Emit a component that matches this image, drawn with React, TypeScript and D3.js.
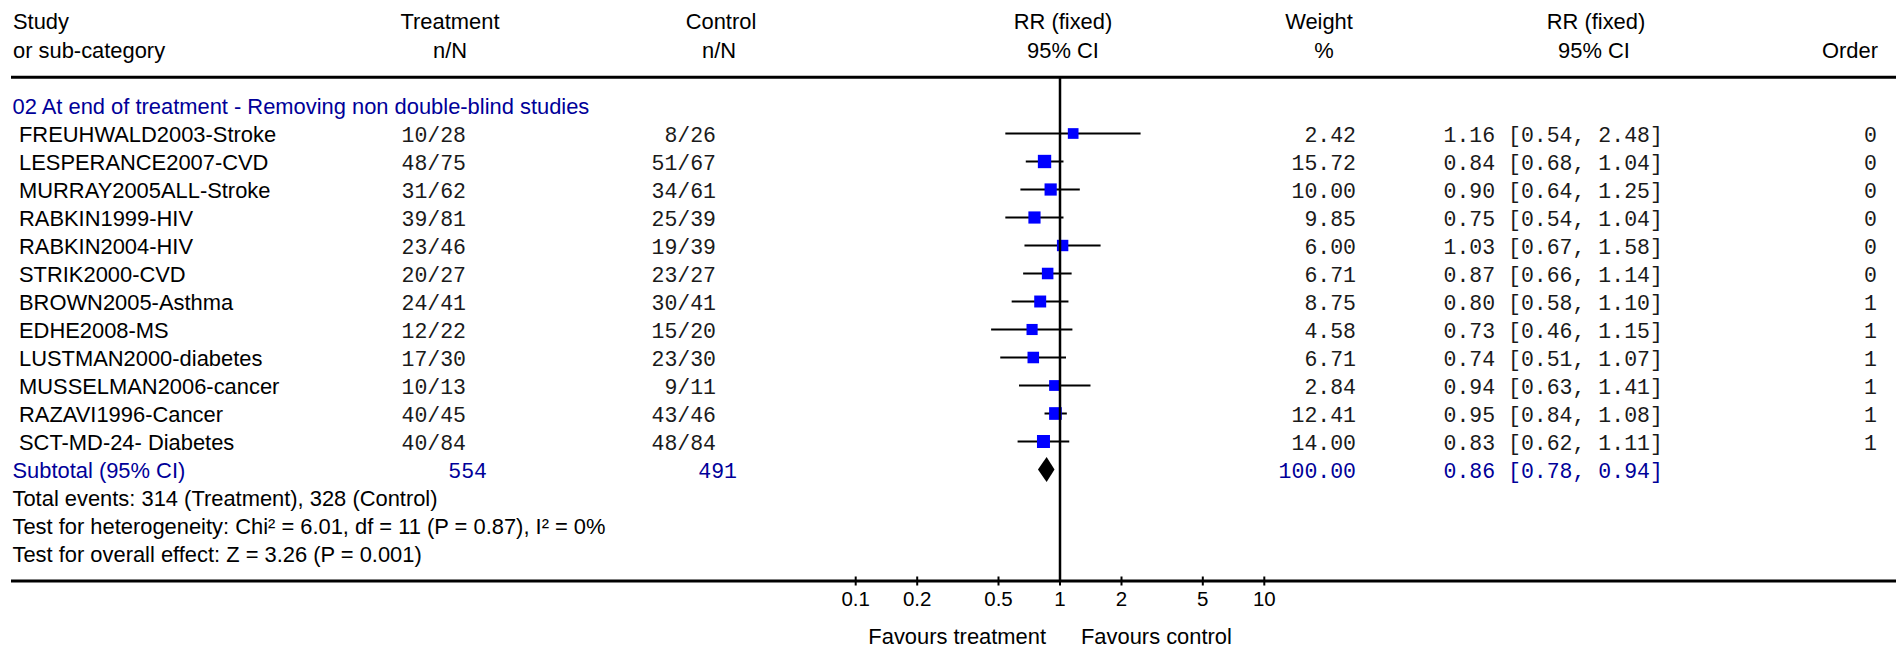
import React from "react";
import * as d3 from "d3";

// ---- Data ----
const groupTitle = "02 At end of treatment - Removing non double-blind studies";
const studies = [
  "FREUHWALD2003-Stroke",
  "LESPERANCE2007-CVD",
  "MURRAY2005ALL-Stroke",
  "RABKIN1999-HIV",
  "RABKIN2004-HIV",
  "STRIK2000-CVD",
  "BROWN2005-Asthma",
  "EDHE2008-MS",
  "LUSTMAN2000-diabetes",
  "MUSSELMAN2006-cancer",
  "RAZAVI1996-Cancer",
  "SCT-MD-24- Diabetes",
];
const treatmentEvents = [10, 48, 31, 39, 23, 20, 24, 12, 17, 10, 40, 40];
const treatmentTotals = [28, 75, 62, 81, 46, 27, 41, 22, 30, 13, 45, 84];
const controlEvents = [8, 51, 34, 25, 19, 23, 30, 15, 23, 9, 43, 48];
const controlTotals = [26, 67, 61, 39, 39, 27, 41, 20, 30, 11, 46, 84];
const weights = [2.42, 15.72, 10.0, 9.85, 6.0, 6.71, 8.75, 4.58, 6.71, 2.84, 12.41, 14.0];
const rr = [1.16, 0.84, 0.9, 0.75, 1.03, 0.87, 0.8, 0.73, 0.74, 0.94, 0.95, 0.83];
const ciLow = [0.54, 0.68, 0.64, 0.54, 0.67, 0.66, 0.58, 0.46, 0.51, 0.63, 0.84, 0.62];
const ciHigh = [2.48, 1.04, 1.25, 1.04, 1.58, 1.14, 1.1, 1.15, 1.07, 1.41, 1.08, 1.11];
const order = [0, 0, 0, 0, 0, 0, 1, 1, 1, 1, 1, 1];

const subtotalLabel = "Subtotal (95% CI)";
const subtotalTreatment = [554];
const subtotalControl = [491];
const subtotalWeight = [100.0];
const subtotalRR = [0.86];
const subtotalLow = [0.78];
const subtotalHigh = [0.94];

const footerLines = [
  "Total events: 314 (Treatment), 328 (Control)",
  "Test for heterogeneity: Chi² = 6.01, df = 11 (P = 0.87), I² = 0%",
  "Test for overall effect: Z = 3.26 (P = 0.001)",
];

const tickValues = [0.1, 0.2, 0.5, 1, 2, 5, 10];
const tickLabels = ["0.1", "0.2", "0.5", "1", "2", "5", "10"];
const favourLeft = "Favours treatment";
const favourRight = "Favours control";

// ---- Styles ----
const W = 1896;
const H = 648;
const SANS = "'Liberation Sans', Arial, Helvetica, sans-serif";
const MONO = "'Liberation Mono', 'Courier New', monospace";
const FS = 21.9;
const MFS = 21.5;
const BLUE = "#000099";
const SQUARE = "#0000ff";
const NUM = "#1a1a1a";

export default function App() {
  const x = d3.scaleLog().domain([0.1, 10]).range([855.7, 1264.3]);
  const y = d3.scaleLinear().domain([0, 11]).range([133.5, 441.5]);
  const base = 8; // baseline offset from row centre
  const size = d3.scaleLinear().domain([0, 16]).range([10.2, 13.4]);
  const fmt = d3.format(".2f");

  const topLine = 77.3;
  const axisY = 581;
  const subY = y(studies.length);
  const diamondHalfH = 12.5;

  const headerY1 = 29;
  const headerY2 = 58;

  return (
    <svg
      width={W}
      height={H}
      style={{ position: "absolute", left: 0, top: 0, background: "#fff" }}
      fontFamily={SANS}
      fontSize={FS}
    >
      <rect x={0} y={0} width={W} height={H} fill="#fff" />
      {/* Headers */}
      <g fill="#000">
        <text x={13} y={headerY1}>Study</text>
        <text x={13} y={headerY2}>or sub-category</text>
        <text x={450} y={headerY1} textAnchor="middle">Treatment</text>
        <text x={450} y={headerY2} textAnchor="middle">n/N</text>
        <text x={721} y={headerY1} textAnchor="middle">Control</text>
        <text x={719} y={headerY2} textAnchor="middle">n/N</text>
        <text x={1063} y={headerY1} textAnchor="middle">RR (fixed)</text>
        <text x={1063} y={headerY2} textAnchor="middle">95% CI</text>
        <text x={1319} y={headerY1} textAnchor="middle">Weight</text>
        <text x={1324} y={headerY2} textAnchor="middle">%</text>
        <text x={1596} y={headerY1} textAnchor="middle">RR (fixed)</text>
        <text x={1594} y={headerY2} textAnchor="middle">95% CI</text>
        <text x={1878} y={headerY2} textAnchor="end">Order</text>
      </g>

      <line x1={11} x2={W} y1={topLine} y2={topLine} stroke="#000" strokeWidth={3} />

      {/* Group title */}
      <text x={12.5} y={y(-1) + base} fill={BLUE}>{groupTitle}</text>

      {/* Study rows */}
      {studies.map((s, i) => {
        const cy = y(i);
        const sz = size(weights[i]);
        return (
          <g key={s}>
            <text x={19} y={cy + base} fill="#000">{s}</text>
            <g fontFamily={MONO} fontSize={MFS} fill={NUM}>
              <text x={466} y={cy + base} textAnchor="end">
                {`${treatmentEvents[i]}/${treatmentTotals[i]}`}
              </text>
              <text x={716} y={cy + base} textAnchor="end">
                {`${controlEvents[i]}/${controlTotals[i]}`}
              </text>
              <text x={1356} y={cy + base} textAnchor="end">
                {fmt(weights[i])}
              </text>
              <text x={1443.5} y={cy + base}>
                {`${fmt(rr[i])} [${fmt(ciLow[i])}, ${fmt(ciHigh[i])}]`}
              </text>
              <text x={1877} y={cy + base} textAnchor="end">
                {String(order[i])}
              </text>
            </g>
            <line x1={x(ciLow[i])} x2={x(ciHigh[i])} y1={cy} y2={cy} stroke="#000" strokeWidth={2} />
            <rect
              x={x(rr[i]) - sz / 2}
              y={cy - sz / 2}
              width={sz}
              height={sz}
              fill={SQUARE}
            />
          </g>
        );
      })}

      {/* Subtotal */}
      <text x={12.5} y={subY + base} fill={BLUE}>{subtotalLabel}</text>
      <g fontFamily={MONO} fontSize={MFS} fill={BLUE}>
        <text x={487} y={subY + base} textAnchor="end">
          {String(subtotalTreatment[0])}
        </text>
        <text x={737} y={subY + base} textAnchor="end">
          {String(subtotalControl[0])}
        </text>
        <text x={1356} y={subY + base} textAnchor="end">
          {fmt(subtotalWeight[0])}
        </text>
        <text x={1443.5} y={subY + base}>
          {`${fmt(subtotalRR[0])} [${fmt(subtotalLow[0])}, ${fmt(subtotalHigh[0])}]`}
        </text>
      </g>
      <path
        d={`M${x(subtotalLow[0])},${subY} L${x(subtotalRR[0])},${subY - diamondHalfH} L${x(
          subtotalHigh[0]
        )},${subY} L${x(subtotalRR[0])},${subY + diamondHalfH} Z`}
        fill="#000"
      />

      {/* Footer */}
      {footerLines.map((t, k) => (
        <text key={k} x={12.5} y={y(studies.length + 1 + k) + base} fill="#000">
          {t}
        </text>
      ))}

      {/* No-effect line */}
      <line x1={x(1)} x2={x(1)} y1={topLine} y2={axisY} stroke="#000" strokeWidth={2.5} />

      {/* Axis */}
      <line x1={11} x2={W} y1={axisY} y2={axisY} stroke="#000" strokeWidth={3} />
      {tickValues.map((v, k) => (
        <g key={v}>
          <line x1={x(v)} x2={x(v)} y1={axisY - 4.5} y2={axisY + 4.5} stroke="#000" strokeWidth={2} />
          <text x={x(v)} y={606} textAnchor="middle" fontSize={20.5} fill="#000">
            {tickLabels[k]}
          </text>
        </g>
      ))}
      <text x={x(1) - 14} y={644} textAnchor="end" fill="#000">{favourLeft}</text>
      <text x={x(1) + 21} y={644} fill="#000">{favourRight}</text>
    </svg>
  );
}
